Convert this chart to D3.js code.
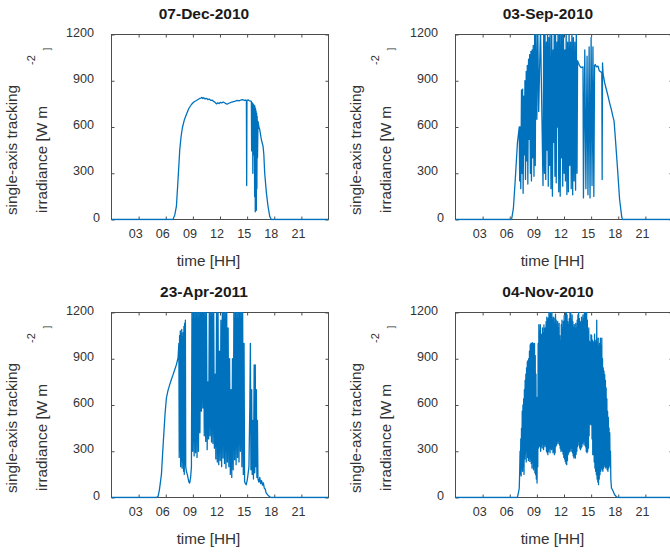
<!DOCTYPE html>
<html>
<head>
<meta charset="utf-8">
<script src="https://cdn.jsdelivr.net/npm/d3@7/dist/d3.min.js"></script>
<style>
  body { margin: 0; background: #fff; }
</style>
</head>
<body>
<div id="chart"></div>
<script>
// axis ticks (hours of day, irradiance W m^-2)
const xTicks = [3, 6, 9, 12, 15, 18, 21];
const yTicks = [0, 300, 600, 900, 1200];

// [hour, irradiance]
const dec2010 = [[0,0],[6.8,0],[7.0,30],[7.18,86],[7.35,250],[7.55,454],[7.7,540],[7.84,595],[8.05,645],[8.28,681],
  [8.55,720],[8.84,746],[9.1,762],[9.39,772],[9.6,780],[9.76,785],[9.9,788],[10.0,792],[10.1,785],[10.2,790],
  [10.35,782],[10.5,786],[10.65,778],[10.8,781],[11.0,772],[11.15,774],[11.3,766],[11.45,760],[11.6,750],[11.75,757],
  [11.9,752],[12.05,760],[12.2,756],[12.35,762],[12.5,757],[12.65,752],[12.8,748],[12.95,754],[13.1,757],[13.3,762],
  [13.5,765],[13.7,768],[13.9,772],[14.1,770],[14.3,775],[14.5,778],[14.7,772],[14.85,775],[14.92,770],[14.95,220],
  [14.98,772],[15.1,776],[15.25,770],[15.4,768],[15.47,766],[15.5,445],[15.53,760],[15.56,600],[15.6,755],[15.63,300],
  [15.66,750],[15.7,420],[15.73,745],[15.76,500],[15.8,740],[15.83,150],[15.86,735],[15.9,50],[15.93,720],[15.96,130],
  [15.99,705],[16.02,60],[16.05,690],[16.08,200],[16.11,670],[16.15,400],[16.2,636],[16.3,600],[16.39,584],[16.57,519],
  [16.76,476],[16.85,420],[16.94,303],[17.13,173],[17.31,86],[17.5,20],[17.68,0],[24,0]];

const sep2010 = [[0,0],[6.2,0],[6.4,70],[6.6,250],[6.85,497],[7.05,600],
  [7.1,250],[7.16,600],[7.22,200],[7.3,840],[7.36,300],[7.42,845],[7.48,170],[7.56,800],[7.62,420],[7.68,900],
  [7.74,260],[7.82,960],[7.88,380],[7.94,1000],[8.0,230],[8.08,1040],[8.14,520],[8.2,1070],[8.28,300],[8.34,1090],
  [8.4,250],[8.48,1100],[8.54,400],[8.6,1130],[8.68,280],[8.76,1250],[8.82,350],[8.9,1250],[9.0,650],[9.1,1250],
  [9.2,700],[9.4,1250],[9.68,220],
  [9.76,1250],[9.84,300],[9.9,1250],[9.98,260],[10.06,1150],[10.12,450],[10.18,1250],[10.26,216],[10.34,1180],[10.4,350],
  [10.46,1250],[10.56,200],[10.64,1250],[10.72,151],[10.8,1100],[10.86,500],[10.92,1250],[11.0,280],[11.06,1250],[11.14,238],
  [11.22,1150],[11.28,600],[11.34,1250],[11.42,180],[11.5,1250],[11.58,151],[11.66,1200],[11.72,400],[11.78,1250],[11.86,216],
  [11.94,1250],[12.02,300],[12.1,1100],[12.16,250],[12.24,1250],[12.32,162],[12.4,1150],[12.48,180],[12.56,1250],[12.64,350],
  [12.72,1150],[12.8,200],[12.88,1250],[12.96,160],[13.04,1180],[13.12,250],[13.2,1150],[13.28,190],[13.36,1250],[13.44,300],
  [13.5,1030],[13.56,1020],[13.7,1000],[13.9,985],[14.1,990],
  [14.15,140],[14.3,1100],[14.42,200],[14.55,1060],[14.65,160],[14.78,1120],[14.88,140],[15.0,1180],[15.1,220],[15.2,1120],
  [15.3,150],[15.38,1000],
  [15.45,1005],[15.6,990],[15.76,995],[15.9,965],[16.05,958],[16.18,955],[16.22,259],[16.26,1016],[16.32,945],[16.5,886],
  [16.7,840],[16.87,800],[17.05,755],[17.24,713],[17.4,670],[17.54,638],[17.69,519],[17.9,346],[18.15,130],[18.4,11],
  [18.5,0],[24,0]];

const apr2011 = [[0,0],[5.0,0],[5.15,8],[5.3,50],[5.52,148],[5.65,280],[5.78,408],[5.92,540],[6.07,645],[6.25,695],
  [6.44,732],[6.62,765],[6.81,797],[7.0,830],[7.18,862],[7.36,905],
  [7.45,1000],[7.49,260],[7.53,1050],[7.57,300],[7.61,1080],[7.65,200],[7.69,1060],[7.73,240],[7.77,1090],[7.81,190],
  [7.85,1040],[7.89,230],[7.93,1070],[7.97,170],[8.01,1110],[8.05,150],[8.09,1130],[8.13,213],[8.17,1150],[8.21,200],
  [8.28,170],[8.38,150],[8.47,126],[8.56,100],[8.65,94],[8.75,130],[8.84,200],
  [8.9,1250],[8.98,300],[9.06,1250],[9.14,270],[9.22,1250],[9.3,290],[9.38,1250],[9.46,260],[9.54,1250],[9.62,300],
  [9.7,1250],[9.78,420],[9.86,1250],[9.94,560],[10.02,1250],[10.1,580],[10.18,1250],[10.26,400],[10.34,1250],[10.42,364],
  [10.5,1250],[10.58,310],[10.66,750],[10.74,380],[10.82,1250],[10.9,400],[10.98,1250],[11.06,360],[11.14,1250],[11.22,350],
  [11.3,1250],[11.38,320],[11.46,800],[11.54,250],[11.62,1250],[11.7,230],[11.78,1250],[11.86,213],[11.94,950],[12.02,240],
  [12.1,1150],[12.18,200],[12.26,1250],[12.34,256],[12.42,1250],[12.5,220],[12.58,1250],[12.66,190],[12.74,1250],[12.82,230],
  [12.9,1100],[12.98,200],[13.06,900],[13.14,150],[13.22,700],[13.3,130],[13.38,900],[13.46,180],[13.54,1250],[13.62,245],
  [13.7,1250],[13.78,213],[13.86,1250],[13.94,260],[14.02,1250],[14.1,230],[14.18,1250],[14.26,300],[14.34,1250],[14.42,200],
  [14.5,1250],[14.58,150],[14.66,1000],[14.72,104],[14.8,90],[14.9,83],[15.0,110],[15.1,150],[15.2,200],
  [15.3,600],[15.36,1000],[15.42,180],[15.5,700],[15.56,150],[15.64,500],[15.7,120],[15.78,860],[15.84,160],[15.9,860],
  [15.96,200],[16.02,700],[16.08,130],[16.14,500],[16.2,120],
  [16.3,100],[16.4,130],[16.5,90],[16.6,110],[16.7,80],[16.8,95],[16.9,60],[17.0,55],[17.1,30],[17.3,15],
  [17.5,5],[17.68,0],[24,0]];

const nov2010 = [[0,0],[6.84,0],[6.95,29],[7.05,60],[7.1,170],
  [7.14,300],[7.18,150],[7.22,380],[7.26,140],[7.3,450],[7.34,190],[7.38,560],[7.42,170],[7.46,600],[7.5,200],
  [7.54,640],[7.58,150],[7.62,700],[7.66,250],[7.7,760],[7.74,280],[7.78,800],[7.82,230],[7.86,840],[7.9,300],
  [7.94,880],[7.98,260],[8.02,890],[8.06,240],[8.1,900],[8.14,256],[8.18,950],[8.22,234],[8.26,990],[8.3,250],
  [8.34,1000],[8.38,220],[8.42,1000],[8.46,191],[8.5,1005],[8.54,230],[8.58,995],[8.62,180],[8.66,1000],[8.7,200],
  [8.74,1000],[8.78,160],[8.82,920],[8.86,148],[8.9,800],[8.94,120],[8.98,650],[9.02,94],[9.06,500],[9.1,200],
  [9.14,1000],[9.18,321],[9.22,1121],[9.26,330],[9.3,1080],[9.34,340],[9.38,1121],[9.42,300],[9.46,1060],[9.5,335],
  [9.54,1056],[9.58,321],[9.62,1100],[9.66,350],[9.7,1070],[9.74,310],[9.78,1120],[9.82,343],[9.86,1090],[9.9,330],
  [9.94,1100],[9.98,343],[10.02,1140],[10.06,300],[10.1,1170],[10.14,290],[10.18,1150],[10.22,278],[10.26,1164],[10.3,300],
  [10.34,1250],[10.38,320],[10.42,1185],[10.46,290],[10.5,1230],[10.54,321],[10.58,1185],[10.62,310],[10.66,1200],[10.7,321],
  [10.74,1150],[10.78,290],[10.82,1170],[10.86,300],[10.9,1130],[10.94,278],[10.98,1164],[11.02,290],[11.06,1190],[11.1,330],
  [11.14,1150],[11.18,340],[11.22,1120],[11.26,365],[11.3,1142],[11.34,350],[11.38,1100],[11.42,365],[11.46,1130],[11.5,340],
  [11.54,1050],[11.58,320],[11.62,1013],[11.66,300],[11.7,1121],[11.74,310],[11.78,1150],[11.82,300],[11.86,1100],[11.9,280],
  [11.94,1142],[11.98,260],[12.02,1180],[12.06,250],[12.1,1142],[12.14,234],[12.18,1200],[12.22,220],[12.26,1250],[12.3,213],
  [12.34,1185],[12.38,240],[12.42,1140],[12.46,278],[12.5,1121],[12.54,290],[12.58,1160],[12.62,300],[12.66,1250],[12.7,321],
  [12.74,1200],[12.78,300],[12.82,1150],[12.86,321],[12.9,1185],[12.94,290],[12.98,1140],[13.02,270],[13.06,1100],[13.1,256],
  [13.14,1121],[13.18,270],[13.22,1090],[13.26,256],[13.3,1130],[13.34,280],[13.38,1100],[13.42,300],[13.46,1150],[13.5,330],
  [13.54,1185],[13.58,365],[13.62,1200],[13.66,340],[13.7,1160],[13.74,321],[13.78,1130],[13.82,310],[13.86,1142],[13.9,321],
  [13.94,1170],[13.98,330],[14.02,1140],[14.06,350],[14.1,1185],[14.14,365],[14.18,1160],[14.22,340],[14.26,1200],[14.3,365],
  [14.34,1250],[14.38,330],[14.42,1196],[14.46,300],[14.5,1250],[14.54,290],[14.58,1150],[14.62,300],[14.66,1078],[14.7,320],
  [14.74,1100],[14.78,400],[14.82,1013],[14.86,472],[14.9,1000],[14.94,480],[14.98,1056],[15.02,472],[15.06,1050],[15.1,380],
  [15.14,1020],[15.18,278],[15.22,1000],[15.26,278],[15.3,1013],[15.34,230],[15.38,1060],[15.42,191],[15.46,1000],[15.5,170],
  [15.54,1020],[15.58,148],[15.62,1150],[15.66,120],[15.7,1000],[15.74,100],[15.78,1034],[15.82,83],[15.86,980],[15.9,120],
  [15.94,1000],[15.98,148],[16.02,1034],[16.06,170],[16.1,980],[16.14,191],[16.18,1034],[16.22,180],[16.26,900],[16.3,170],
  [16.34,840],[16.38,190],[16.42,820],[16.46,213],[16.5,797],[16.54,200],[16.58,760],[16.62,191],[16.66,711],[16.7,200],
  [16.74,640],[16.78,180],[16.82,559],[16.86,170],[16.9,520],[16.94,190],[16.98,451],[17.02,213],[17.06,420],[17.1,200],
  [17.14,300],[17.18,120],[17.25,62],[17.4,45],[17.6,18],[17.8,5],[18.0,0],[24,0]];

const panels = [
  { title: "07-Dec-2010", data: dec2010, left: 111.5, top: 34.5 },
  { title: "03-Sep-2010", data: sep2010, left: 455.5, top: 34.5 },
  { title: "23-Apr-2011", data: apr2011, left: 111.5, top: 312.5 },
  { title: "04-Nov-2010", data: nov2010, left: 455.5, top: 312.5 }
];

const width = 217, height = 185;
const axisColor = "#4d4d4d";
const textColor = "#333";
const lineColor = "#0072BD";
const font = '"Liberation Sans", Arial, Helvetica, sans-serif';

const svg = d3.select('#chart')
    .append('svg')
    .attr('width', 670)
    .attr('height', 555)
    .style('font-family', font)
    .style('background', '#fff');

svg.append('defs').append('clipPath')
    .attr('id', 'plotclip')
    .append('rect')
    .attr('x', 0)
    .attr('y', -0.5)
    .attr('width', width)
    .attr('height', height + 1.5);

const x = d3.scaleLinear().domain([0, 24]).range([0, width]);
const y = d3.scaleLinear().domain([0, 1200]).range([height, 0]);

const line = d3.line()
    .x(d => x(d[0]))
    .y(d => y(d[1]));

function styleAxis(sel) {
    sel.select('.domain').remove();
    sel.selectAll('.tick line').attr('stroke', axisColor);
    sel.selectAll('text')
        .attr('fill', textColor)
        .style('font-size', '12.6px')
        .style('font-family', font);
}

panels.forEach(p => {
    const g = svg.append('g')
        .attr('transform', `translate(${p.left}, ${p.top})`);

    // bottom axis with labels
    g.append('g')
        .attr('transform', `translate(0, ${height})`)
        .call(d3.axisBottom(x).tickValues(xTicks).tickFormat(d3.format('02d'))
            .tickSizeInner(-3).tickSizeOuter(0).tickPadding(10))
        .call(styleAxis)
        .selectAll('text').attr('dx', -3.5);

    // top axis, ticks only
    g.append('g')
        .call(d3.axisTop(x).tickValues(xTicks).tickFormat('')
            .tickSizeInner(-3).tickSizeOuter(0))
        .call(styleAxis);

    // left axis with labels
    g.append('g')
        .call(d3.axisLeft(y).tickValues(yTicks).tickFormat(d3.format('d'))
            .tickSizeInner(-3).tickSizeOuter(0).tickPadding(17.5))
        .call(styleAxis)
        .selectAll('text')
        .attr('y', -2.5)
        .attr('dx', d => d === 0 ? 6 : 0);

    // right axis, ticks only
    g.append('g')
        .attr('transform', `translate(${width}, 0)`)
        .call(d3.axisRight(y).tickValues(yTicks).tickFormat('')
            .tickSizeInner(-3).tickSizeOuter(0))
        .call(styleAxis);

    // box
    g.append('rect')
        .attr('width', width)
        .attr('height', height)
        .attr('fill', 'none')
        .attr('stroke', axisColor)
        .attr('stroke-width', 1);

    // the series
    g.append('g')
        .attr('clip-path', 'url(#plotclip)')
        .append('path')
        .datum(p.data)
        .attr('d', line)
        .attr('fill', 'none')
        .attr('stroke', lineColor)
        .attr('stroke-width', 1.3)
        .attr('stroke-linejoin', 'round');

    // title
    g.append('text')
        .attr('x', 92.5)
        .attr('y', -15.3)
        .attr('text-anchor', 'middle')
        .attr('fill', '#1a1a1a')
        .style('font-size', '15.5px')
        .style('font-weight', 'bold')
        .text(p.title);

    // x label
    g.append('text')
        .attr('x', 97)
        .attr('y', height + 46)
        .attr('text-anchor', 'middle')
        .attr('fill', textColor)
        .style('font-size', '15.3px')
        .text('time [HH]');

    // y label, two lines with superscript
    g.append('text')
        .attr('transform', 'translate(-94.5, 115.5) rotate(-90)')
        .attr('text-anchor', 'middle')
        .attr('fill', textColor)
        .style('font-size', '15.3px')
        .text('single-axis tracking');

    g.append('text')
        .attr('transform', 'translate(-65, 178.5) rotate(-90)')
        .attr('text-anchor', 'start')
        .attr('fill', textColor)
        .style('font-size', '15.3px')
        .text('irradiance [W m');

    g.append('text')
        .attr('transform', 'translate(-77, 25.5) rotate(-90)')
        .attr('text-anchor', 'middle')
        .attr('fill', textColor)
        .style('font-size', '11px')
        .text('-2');

    g.append('text')
        .attr('transform', 'translate(-61.5, 14.5) rotate(-90)')
        .attr('text-anchor', 'middle')
        .attr('fill', textColor)
        .style('font-size', '9px')
        .text(']');
});
</script>
</body>
</html>
